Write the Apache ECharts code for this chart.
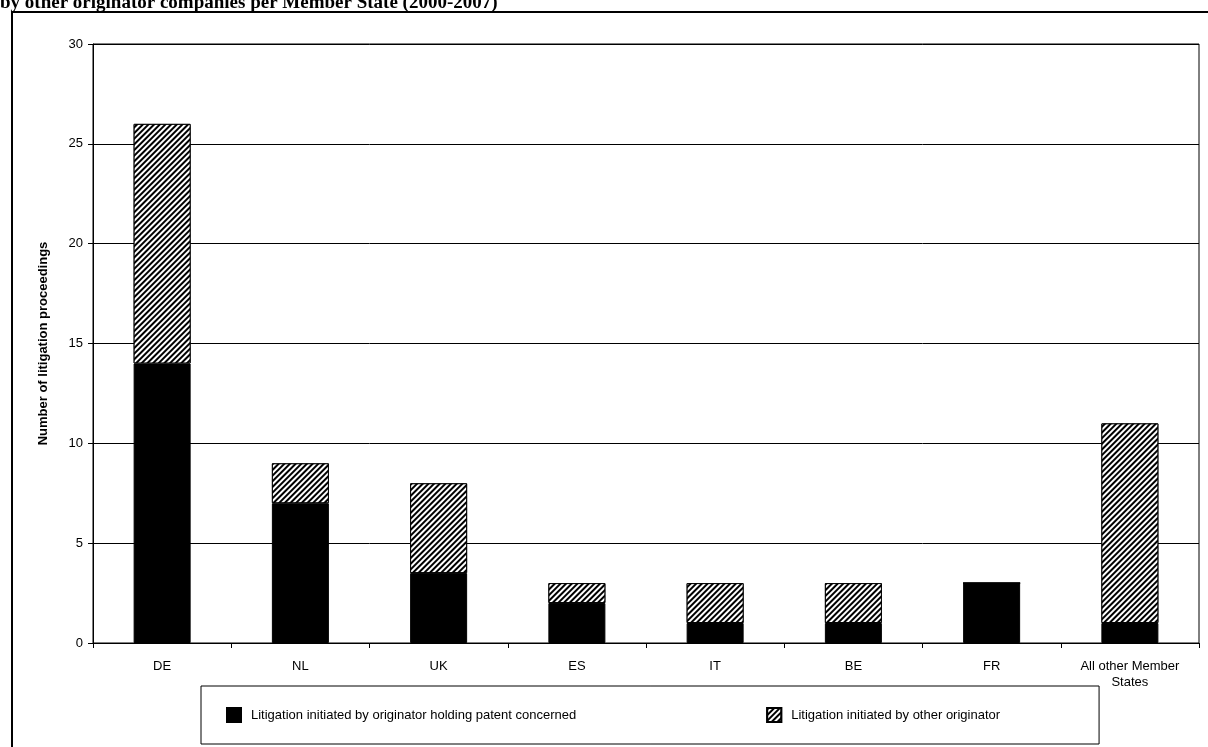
<!DOCTYPE html>
<html>
<head>
<meta charset="utf-8">
<script src="https://cdn.jsdelivr.net/npm/echarts@6/dist/echarts.min.js"></script>
<style>
html,body{margin:0;padding:0;background:#fff;}
#chart{width:1208px;height:747px;}
</style>
</head>
<body>
<div id="chart"></div>
<script>
const categories = ['DE', 'NL', 'UK', 'ES', 'IT', 'BE', 'FR', 'All other Member\nStates'];
const holdingPatent = [14, 7, 3.5, 2, 1, 1, 3, 1];
const otherOriginator = [12, 2, 4.5, 1, 2, 2, 0, 10];
const seriesNames = ['Litigation initiated by originator holding patent concerned', 'Litigation initiated by other originator'];
const yTicks = { min: 0, max: 30, interval: 5 };
const titleText = 'by other originator companies per Member State (2000-2007)';
const yAxisName = 'Number of litigation proceedings';

const chart = echarts.init(document.getElementById('chart'), null, { renderer: 'canvas' });
const stripe = {
  symbol: 'rect',
  symbolSize: 1,
  dashArrayX: [[1, 0]],
  dashArrayY: [2, 2],
  rotation: -Math.PI / 4,
  color: '#000',
  backgroundColor: '#fff'
};
chart.setOption({
  animation: false,
  backgroundColor: '#fff',
  textStyle: { fontFamily: 'Liberation Sans, Arial, sans-serif', color: '#000' },
  graphic: [
    { type: 'rect', shape: { x: 12, y: 12, width: 1210, height: 760 }, style: { fill: null, stroke: '#000', lineWidth: 2 }, silent: true },
    { type: 'text', x: 0, y: 13, style: { text: titleText, font: 'bold 19px "Liberation Serif", "Times New Roman", serif', fill: '#000', verticalAlign: 'bottom', textVerticalAlign: 'bottom' } }
  ],
  grid: { left: 93, top: 44, right: 9, bottom: 104, show: true, borderColor: '#000', borderWidth: 1 },
  legend: {
    left: 201, top: 686,
    padding: [21, 99, 21, 25],
    itemGap: 190,
    itemWidth: 14, itemHeight: 14,
    icon: 'rect',
    borderColor: '#000', borderWidth: 1,
    textStyle: { fontSize: 13, color: '#000', fontFamily: 'Liberation Sans, Arial, sans-serif', padding: [0, 0, 0, 5] },
    data: seriesNames
  },
  xAxis: {
    type: 'category',
    data: categories,
    axisLine: { lineStyle: { color: '#000' } },
    axisTick: { show: true, lineStyle: { color: '#000' }, length: 5 },
    axisLabel: { color: '#000', fontSize: 13, margin: 15, lineHeight: 16, interval: 0 }
  },
  yAxis: {
    type: 'value',
    min: yTicks.min, max: yTicks.max, interval: yTicks.interval,
    name: yAxisName,
    nameLocation: 'middle',
    nameGap: 43,
    nameTextStyle: { fontWeight: 'bold', fontSize: 13, color: '#000' },
    axisLine: { show: true, lineStyle: { color: '#000' } },
    axisTick: { show: true, lineStyle: { color: '#000' }, length: 5 },
    axisLabel: { color: '#000', fontSize: 13, margin: 10 },
    splitLine: { show: true, lineStyle: { color: '#000', width: 1 } }
  },
  series: [
    {
      name: seriesNames[0], type: 'bar', stack: 'total', barWidth: 57,
      data: holdingPatent,
      itemStyle: { color: '#000', borderColor: '#000', borderWidth: 1 }
    },
    {
      name: seriesNames[1], type: 'bar', stack: 'total', barWidth: 57,
      data: otherOriginator,
      itemStyle: { color: '#fff', borderColor: '#000', borderWidth: 1, decal: stripe }
    }
  ]
});
</script>
</body>
</html>
